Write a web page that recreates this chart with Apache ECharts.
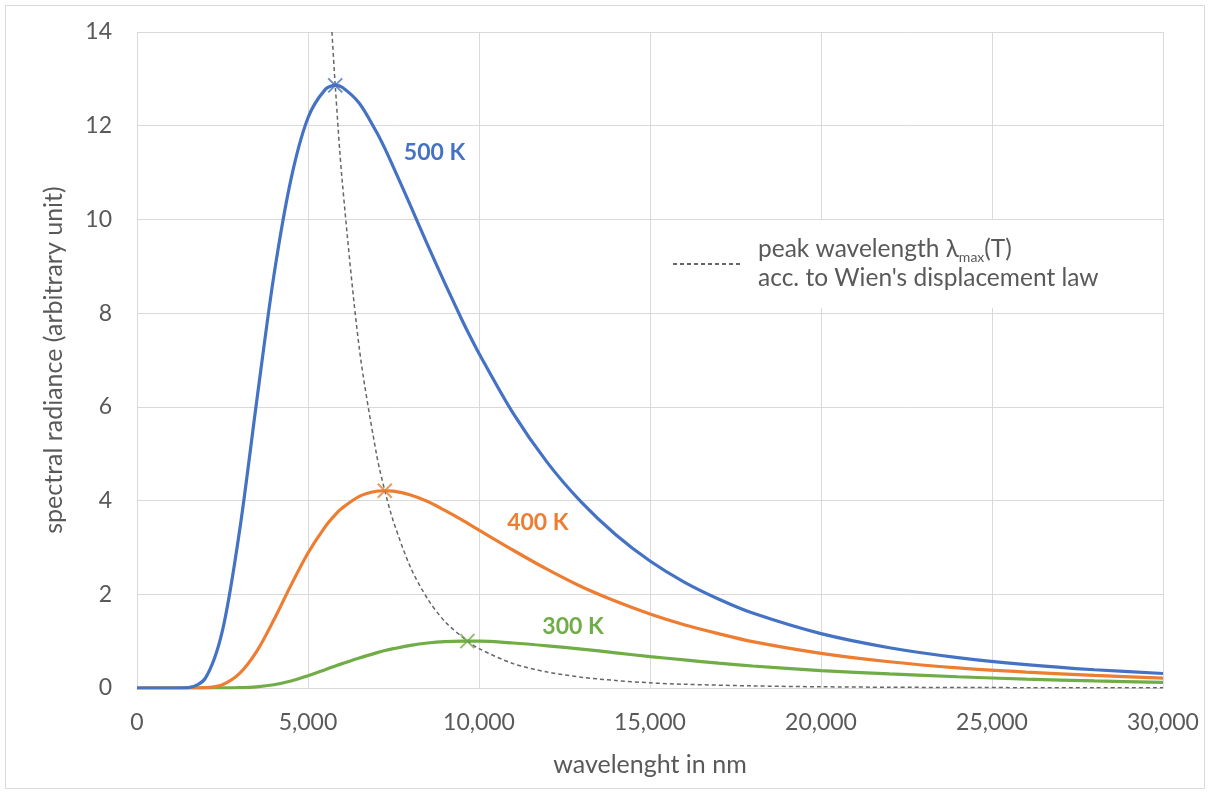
<!DOCTYPE html>
<html>
<head>
<meta charset="utf-8">
<script src="https://cdn.jsdelivr.net/npm/echarts@6/dist/echarts.min.js"></script>
<style>html,body{margin:0;padding:0;background:#fff}#c{width:1208px;height:793px}</style>
</head>
<body>
<div id="c"></div>
<script>
// wavelength grid (nm)
const wavelengths = [0, 1000, 1500, 2000, 2500, 3000, 3500, 4000, 4500, 5000, 5500, 5800, 6000, 6500, 7000, 7250, 7500, 8000, 8500, 9000, 9500, 9660, 10000, 11000, 12000, 13000, 14000, 15000, 16000, 17000, 18000, 20000, 22000, 24000, 26000, 28000, 30000];
const radiance500K = [0, 0, 0.007, 0.21, 1.23, 3.36, 6.12, 8.79, 10.85, 12.17, 12.77, 12.86, 12.82, 12.48, 11.87, 11.51, 11.11, 10.29, 9.45, 8.64, 7.86, 7.62, 7.14, 5.86, 4.81, 3.96, 3.27, 2.71, 2.26, 1.90, 1.60, 1.16, 0.86, 0.65, 0.50, 0.39, 0.31];
const radiance400K = [0, 0, 0, 0.006, 0.07, 0.31, 0.78, 1.45, 2.19, 2.88, 3.44, 3.70, 3.84, 4.09, 4.20, 4.21, 4.20, 4.12, 3.98, 3.79, 3.59, 3.52, 3.37, 2.94, 2.53, 2.16, 1.85, 1.58, 1.35, 1.16, 0.99, 0.74, 0.56, 0.43, 0.34, 0.27, 0.21];
const radiance300K = [0, 0, 0, 0, 0.001, 0.006, 0.026, 0.07, 0.15, 0.26, 0.39, 0.47, 0.52, 0.64, 0.75, 0.80, 0.84, 0.91, 0.96, 0.99, 1.0, 1.0, 1.0, 0.96, 0.90, 0.83, 0.75, 0.67, 0.60, 0.53, 0.47, 0.37, 0.30, 0.24, 0.19, 0.15, 0.12];
// Wien's displacement law curve
const wienX = [5700, 5800, 6000, 6500, 7000, 7250, 7500, 8000, 8500, 9000, 9660, 10000, 11000, 12000, 13000, 14000, 15000, 16000, 18000, 20000, 22000, 24000, 26000, 28000, 30000];
const wienY = [14.0, 12.82, 10.82, 7.25, 5.0, 4.2, 3.55, 2.57, 1.9, 1.42, 1.0, 0.84, 0.52, 0.34, 0.23, 0.16, 0.11, 0.08, 0.045, 0.026, 0.016, 0.011, 0.007, 0.005, 0.0035];
// peaks
const peakX = [5796, 7245, 9660];
const peakY = [12.86, 4.21, 1.0];
const seriesNames = ['500 K', '400 K', '300 K'];
const seriesColors = ['#4472C4', '#ED7D31', '#70AD47'];
const labelX = [8700, 11720, 12750];
const labelY = [11.42, 3.54, 1.32];
const legendName = "peak wavelength λmax(T) acc. to Wien's displacement law";
const yTicks = [0, 2, 4, 6, 8, 10, 12, 14];

const FONT = 'Lato';
const GREY = '#595959';
const chart = echarts.init(document.getElementById('c'));
const curves = [radiance500K, radiance400K, radiance300K];

const series = [];
curves.forEach((vals, i) => {
  series.push({
    name: seriesNames[i], type: 'line', smooth: 0.3, symbol: 'none',
    data: wavelengths.map((w, k) => [w, vals[k]]),
    lineStyle: {color: seriesColors[i], width: 3.2},
    itemStyle: {color: seriesColors[i]},
    z: 3 + (3 - i),
    markPoint: {
      symbol: 'circle', symbolSize: 0,
      data: [{coord: [labelX[i], labelY[i]]}],
      label: {show: true, formatter: seriesNames[i], color: seriesColors[i], fontFamily: FONT, fontWeight: 'bold', fontSize: 23},
      silent: true
    }
  });
});
series.push({
  name: legendName, type: 'line', smooth: 0.3, symbol: 'none',
  data: wienX.map((w, k) => [w, wienY[k]]),
  lineStyle: {color: '#666666', width: 1.5, type: [4, 3]},
  itemStyle: {color: 'rgba(0,0,0,0)'},
  z: 10
});
peakX.forEach((x, i) => {
  series.push({
    name: 'peak' + i, type: 'scatter',
    data: [[x, peakY[i]]],
    symbol: 'path://M0,0L10,10M10,0L0,10', symbolSize: 14,
    itemStyle: {color: 'rgba(0,0,0,0)', borderColor: seriesColors[i], borderWidth: 2},
    z: 12
  });
});

chart.setOption({
  animation: false,
  backgroundColor: '#fff',
  graphic: [{type: 'rect', shape: {x: 5.5, y: 5.5, width: 1199, height: 783}, style: {fill: 'none', stroke: '#d9d9d9', lineWidth: 1}, silent: true}],
  grid: {left: 137, right: 45, top: 32, bottom: 105},
  legend: {
    data: [legendName],
    left: 655, top: 220,
    itemWidth: 68, itemHeight: 10, itemGap: 10,
    backgroundColor: '#fff',
    itemStyle: {opacity: 0},
    padding: [17, 8, 17, 17],
    formatter: () => "{p|peak wavelength λ}{s|max}{a|(T)}\n{p|acc. to Wien's displacement law}",
    textStyle: {
      rich: {
        p: {fontFamily: FONT, fontSize: 24.5, color: GREY, lineHeight: 29, padding: [0, 0, 0, 12]},
        a: {fontFamily: FONT, fontSize: 24.5, color: GREY, lineHeight: 29},
        s: {fontFamily: FONT, fontSize: 14, color: GREY, lineHeight: 29, verticalAlign: 'bottom', padding: [10, 0, 0, 0]}
      }
    }
  },
  xAxis: {
    type: 'value', min: 0, max: 30000, interval: 5000,
    name: 'wavelenght in nm', nameLocation: 'middle', nameGap: 64,
    nameTextStyle: {fontFamily: FONT, fontSize: 25, color: GREY},
    axisLine: {show: true, lineStyle: {color: '#d9d9d9', width: 1}},
    axisTick: {show: false},
    axisLabel: {margin: 23, fontFamily: FONT, fontSize: 23, color: GREY, formatter: v => v.toLocaleString('en-US')},
    splitLine: {show: true, lineStyle: {color: '#d9d9d9', width: 1}}
  },
  yAxis: {
    type: 'value', min: yTicks[0], max: yTicks[yTicks.length - 1], interval: 2,
    name: 'spectral radiance (arbitrary unit)', nameLocation: 'middle', nameGap: 71,
    nameTextStyle: {fontFamily: FONT, fontSize: 25, color: GREY},
    axisLine: {show: false}, axisTick: {show: false},
    axisLabel: {margin: 25, fontFamily: FONT, fontSize: 23, color: GREY},
    splitLine: {show: true, lineStyle: {color: '#d9d9d9', width: 1}}
  },
  series: series
});
</script>
</body>
</html>
